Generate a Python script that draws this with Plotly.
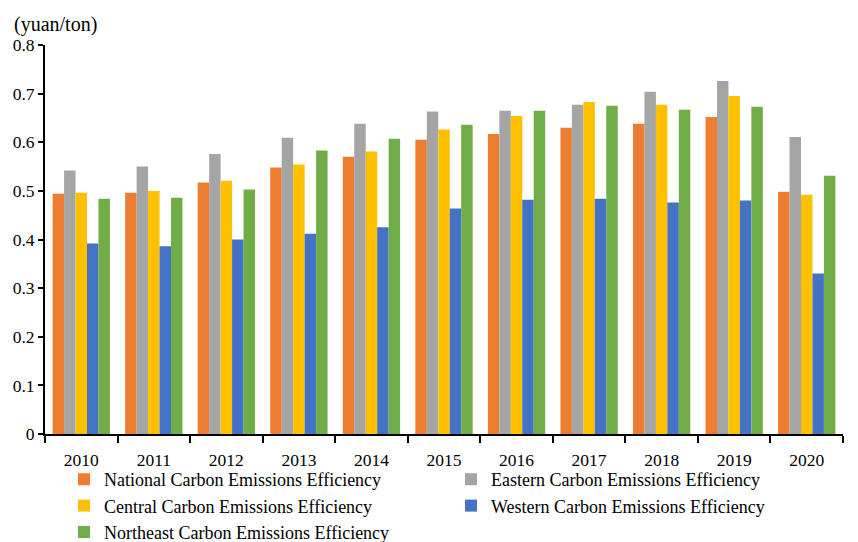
import plotly.graph_objects as go

years = ["2010", "2011", "2012", "2013", "2014", "2015", "2016", "2017", "2018", "2019", "2020"]

national = [0.494, 0.496, 0.517, 0.548, 0.570, 0.605, 0.617, 0.630, 0.638, 0.652, 0.498]
eastern = [0.542, 0.550, 0.576, 0.609, 0.638, 0.663, 0.665, 0.677, 0.704, 0.726, 0.611]
central = [0.496, 0.500, 0.521, 0.554, 0.581, 0.626, 0.654, 0.683, 0.677, 0.695, 0.492]
western = [0.392, 0.386, 0.400, 0.412, 0.425, 0.464, 0.482, 0.484, 0.476, 0.480, 0.330]
northeast = [0.484, 0.486, 0.503, 0.583, 0.607, 0.636, 0.665, 0.675, 0.667, 0.673, 0.531]

series = [
    ("National Carbon Emissions Efficiency", national, "#ED7D31"),
    ("Eastern Carbon Emissions Efficiency", eastern, "#A5A5A5"),
    ("Central Carbon Emissions Efficiency", central, "#FFC000"),
    ("Western Carbon Emissions Efficiency", western, "#4472C4"),
    ("Northeast Carbon Emissions Efficiency", northeast, "#70AD47"),
]

FONT = "Liberation Serif"

fig = go.Figure()
for name, vals, color in series:
    fig.add_trace(go.Bar(x=years, y=vals, name=name,
                         marker=dict(color=color, line=dict(width=0))))

W, H = 858, 542
ml, mr, mt, mb = 45, 15, 45, 108
pw, ph = W - ml - mr, H - mt - mb

fig.update_layout(
    width=W, height=H,
    margin=dict(l=ml, r=mr, t=mt, b=mb, pad=0, autoexpand=False),
    paper_bgcolor="white", plot_bgcolor="white",
    barmode="group", bargap=0.21, bargroupgap=0,
    font=dict(family=FONT, size=17, color="#000000"),
    showlegend=True,
    legend=dict(
        orientation="h",
        xref="container", yref="container",
        x=64 / W, xanchor="left",
        y=1 - 461 / H, yanchor="top",
        entrywidth=342, entrywidthmode="pixels",
        font=dict(family=FONT, size=18, color="#000000"),
        traceorder="normal",
        bgcolor="rgba(0,0,0,0)",
    ),
    annotations=[dict(
        text="(yuan/ton)", xref="paper", yref="paper",
        x=(12 - ml) / pw, y=1 + (mt - 25) / ph,
        xanchor="left", yanchor="middle", showarrow=False,
        font=dict(family=FONT, size=20, color="#000000"),
    )],
)

fig.update_xaxes(
    showline=True, linecolor="#000000", linewidth=2,
    ticks="outside", tickson="boundaries", ticklen=7, tickwidth=2, tickcolor="#000000",
    ticklabelstandoff=9,
    showgrid=False, tickfont=dict(family=FONT, size=17.5),
)
fig.update_yaxes(
    range=[0, 0.8], dtick=0.1, tickformat="~g",
    showline=True, linecolor="#000000", linewidth=2,
    ticks="outside", ticklen=5, tickwidth=2, tickcolor="#000000",
    showgrid=False, zeroline=False, tickfont=dict(family=FONT, size=17.5),
)

fig.write_html("out.html")
